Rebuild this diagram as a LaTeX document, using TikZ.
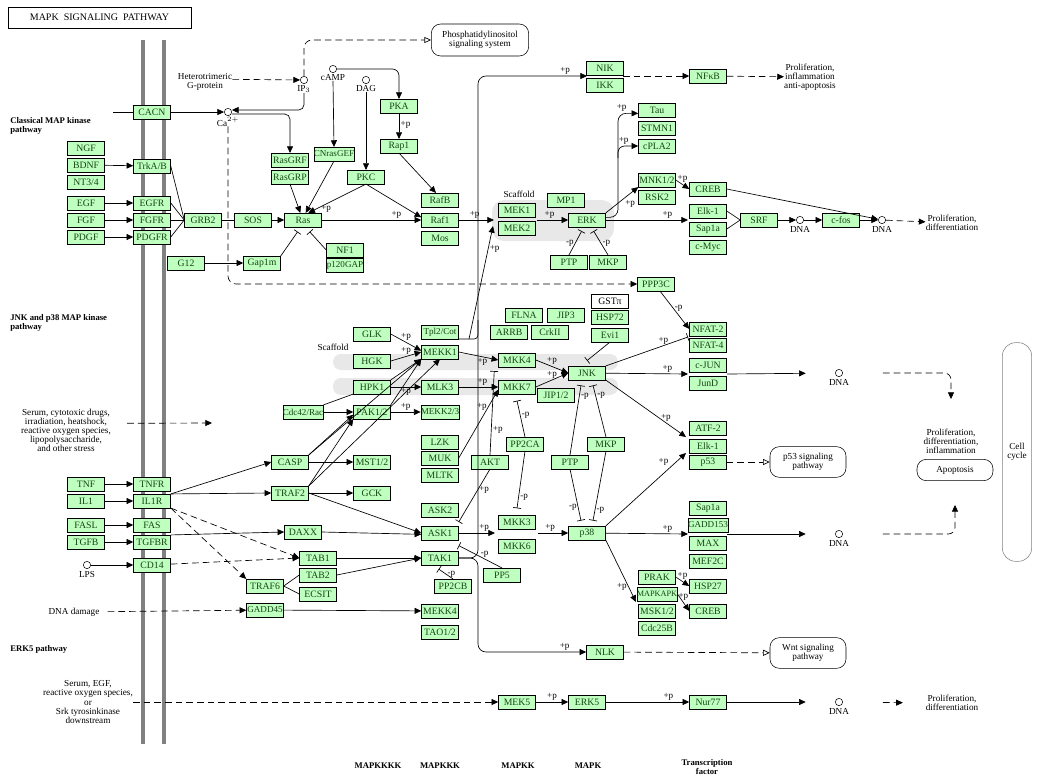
\documentclass[tikz,border=0pt]{standalone}
\usepackage{fontspec}
\setmainfont{Liberation Serif}
\usetikzlibrary{arrows.meta, positioning}
\definecolor{kgfill}{RGB}{191,255,191}
\definecolor{kgtext}{RGB}{20,70,20}
\definecolor{scaf}{RGB}{232,232,232}

\begin{document}
\begin{tikzpicture}[
  x=0.75pt, y=-0.75pt,
  gene/.style={draw, fill=kgfill, text=kgtext, minimum width=27.75pt, minimum height=10.2pt, inner sep=0pt, font=\fontsize{7.3}{8}\selectfont},
  tight/.style={font=\fontsize{6.8}{7}\selectfont},
  tighter/.style={font=\fontsize{6.2}{6.5}\selectfont},
  blank/.style={gene, fill=white, text=black},
  mol/.style={draw, circle, fill=white, minimum size=5.5pt, inner sep=0pt},
  txt/.style={align=center, inner sep=0pt, font=\fontsize{6.9}{6.8}\selectfont},
  head/.style={align=left, inner sep=0pt, font=\bfseries\fontsize{6.5}{7}\selectfont},
  mapbox/.style={draw, rounded corners=7pt, align=center, inner sep=0pt, font=\fontsize{6.9}{6.8}\selectfont},
  act/.style={-{Triangle[length=5pt,width=4.5pt]}, line width=0.5pt},
  ind/.style={act, dash pattern=on 5pt off 3pt},
  lnk/.style={-{Triangle[open,length=5pt,width=4.5pt]}, dash pattern=on 5pt off 3pt, line width=0.5pt},
  inh/.style={-{Bar[width=6pt]}, line width=0.5pt},
  con/.style={line width=0.5pt},
  pl/.style={font=\fontsize{6.8}{7}\selectfont, inner sep=1pt}
  ]
  \useasboundingbox (0,0) rectangle (1040,779);

  % scaffolds and membrane
  \fill[scaf, rounded corners=9pt] (492,200) rectangle (614,241);
  \fill[scaf, rounded corners=6pt] (333,354) rectangle (618,370);
  \fill[scaf, rounded corners=6pt] (333,378) rectangle (618,395);
  \draw[gray, line width=3pt] (143,40) -- (143,744);
  \draw[gray, line width=3pt] (164,40) -- (164,744);

  \node[draw, minimum width=137pt, minimum height=15.5pt, inner sep=0pt, font=\fontsize{7.5}{8}\selectfont] (title) at (99.5,17.5) {MAPK\ \ SIGNALING\ \ PATHWAY};
  \node[head, anchor=north west] (hclass) at (10,117) {Classical MAP kinase\\pathway};
  \node[head, anchor=north west] (hjnk) at (10,314) {JNK and p38 MAP kinase\\pathway};
  \node[head, anchor=north west] (herk) at (10,645) {ERK5 pathway};

  \node[gene] (ngf) at (86,148) {NGF};
  \node[gene] (bdnf) at (86,165) {BDNF};
  \node[gene] (ntf) at (86,182) {NT3/4};
  \node[gene] (egf) at (86,203) {EGF};
  \node[gene] (fgf) at (86,220) {FGF};
  \node[gene] (pdgf) at (86,237) {PDGF};
  \node[gene] (cacn) at (152,112) {CACN};
  \node[gene] (trk) at (152,166) {TrkA/B};
  \node[gene] (egfr) at (152,203) {EGFR};
  \node[gene] (fgfr) at (152,220) {FGFR};
  \node[gene] (pdgfr) at (152,237) {PDGFR};
  \node[gene] (tnf) at (86,484) {TNF};
  \node[gene] (ilone) at (86,501) {IL1};
  \node[gene] (fasl) at (86,525) {FASL};
  \node[gene] (tgfb) at (86,542) {TGFB};
  \node[gene] (tnfr) at (152,484) {TNFR};
  \node[gene] (ilr) at (152,501) {IL1R};
  \node[gene] (fas) at (152,525) {FAS};
  \node[gene] (tgfbr) at (152,542) {TGFBR};
  \node[gene] (cdft) at (152,565) {CD14};

  \node[gene] (grb) at (203,220) {GRB2};
  \node[gene] (sos) at (253,220) {SOS};
  \node[gene] (ras) at (303,220) {Ras};
  \node[gene] (gtw) at (186,263) {G12};
  \node[gene] (gapm) at (262,263) {Gap1m};
  \node[gene] (rasgrf) at (290,160) {RasGRF};
  \node[gene] (rasgrp) at (290,177) {RasGRP};
  \node[gene, tight] (cnras) at (334,154) {CNrasGEF};
  \node[gene] (pkc) at (366,177) {PKC};
  \node[gene] (pka) at (399,106) {PKA};
  \node[gene] (rapone) at (399,146) {Rap1};
  \node[gene] (rafb) at (440,200) {RafB};
  \node[gene] (rafone) at (440,220) {Raf1};
  \node[gene] (mos) at (440,238) {Mos};
  \node[gene] (nfone) at (345,250) {NF1};
  \node[gene, tight] (gap) at (345,265) {p120GAP};
  \node[gene] (mekone) at (517,210) {MEK1};
  \node[gene] (mektwo) at (517,228) {MEK2};
  \node[gene] (mpone) at (566,200) {MP1};
  \node[gene] (erk) at (587,220) {ERK};
  \node[gene] (ptpe) at (569,262) {PTP};
  \node[gene] (mkpe) at (608,262) {MKP};
  \node[gene] (nik) at (605,68) {NIK};
  \node[gene] (ikk) at (605,85) {IKK};
  \node[gene] (nfkb) at (708,76) {NFκB};
  \node[gene] (tau) at (657,110) {Tau};
  \node[gene] (stmn) at (657,128) {STMN1};
  \node[gene] (cpla) at (657,146) {cPLA2};
  \node[gene] (mnk) at (657,180) {MNK1/2};
  \node[gene] (rsk) at (657,197) {RSK2};
  \node[gene] (creba) at (708,189) {CREB};
  \node[gene] (elka) at (708,211) {Elk-1};
  \node[gene] (sapa) at (708,229) {Sap1a};
  \node[gene] (myc) at (708,247) {c-Myc};
  \node[gene] (srf) at (759,220) {SRF};
  \node[gene] (cfos) at (841,220) {c-fos};

  \node[gene] (ppp) at (656,284) {PPP3C};
  \node[gene] (nfattwo) at (708,329) {NFAT-2};
  \node[gene] (nfatfour) at (708,345) {NFAT-4};
  \node[gene] (cjun) at (708,365) {c-JUN};
  \node[gene] (jund) at (708,383) {JunD};
  \node[gene] (atf) at (708,428) {ATF-2};
  \node[gene] (elkb) at (708,446) {Elk-1};
  \node[gene] (psf) at (708,462) {p53};
  \node[gene] (sapb) at (708,508) {Sap1a};
  \node[gene, tight] (gadd) at (708,525) {GADD153};
  \node[gene] (max) at (708,543) {MAX};
  \node[gene] (mef) at (708,561) {MEF2C};
  \node[gene] (hsp) at (708,586) {HSP27};
  \node[gene] (crebc) at (708,611) {CREB};
  \node[gene] (nur) at (708,702) {Nur77};

  \node[gene] (glk) at (372,334) {GLK};
  \node[gene] (hgk) at (372,361) {HGK};
  \node[gene] (hpk) at (372,387) {HPK1};
  \node[gene] (pak) at (372,412) {PAK1/2};
  \node[gene, tight] (cdc) at (303,412) {Cdc42/Rac};
  \node[gene, tight] (tpl) at (440,332) {Tpl2/Cot};
  \node[gene] (mekka) at (440,352) {MEKK1};
  \node[gene] (mlk) at (440,387) {MLK3};
  \node[gene, tight] (mekkb) at (440,412) {MEKK2/3};
  \node[gene] (casp) at (290,462) {CASP};
  \node[gene] (traf) at (290,493) {TRAF2};
  \node[gene] (mst) at (372,462) {MST1/2};
  \node[gene] (gck) at (372,493) {GCK};
  \node[gene] (lzk) at (440,442) {LZK};
  \node[gene] (muk) at (440,458) {MUK};
  \node[gene] (mltk) at (440,475) {MLTK};
  \node[gene] (flna) at (524,315) {FLNA};
  \node[gene] (jipt) at (566,315) {JIP3};
  \node[gene] (arrb) at (509,332) {ARRB};
  \node[gene] (crk) at (550,332) {CrkII};
  \node[blank] (gst) at (610,301) {GSTπ};
  \node[gene] (hsps) at (610,317) {HSP72};
  \node[gene] (evi) at (610,335) {Evi1};
  \node[gene] (mkkf) at (517,360) {MKK4};
  \node[gene] (mkks) at (517,387) {MKK7};
  \node[gene] (jip) at (556,395) {JIP1/2};
  \node[gene] (jnk) at (587,373) {JNK};
  \node[gene] (ppca) at (525,444) {PP2CA};
  \node[gene] (ptpj) at (570,462) {PTP};
  \node[gene] (mkpj) at (606,444) {MKP};
  \node[gene] (akt) at (490,462) {AKT};

  \node[gene] (daxx) at (303,532) {DAXX};
  \node[gene] (tabone) at (318,558) {TAB1};
  \node[gene] (tabtwo) at (318,575) {TAB2};
  \node[gene] (ecsit) at (318,594) {ECSIT};
  \node[gene] (trafsix) at (265,586) {TRAF6};
  \node[gene, tight] (gaddff) at (265,610) {GADD45};
  \node[gene] (asktwo) at (440,510) {ASK2};
  \node[gene] (askone) at (440,533) {ASK1};
  \node[gene] (tak) at (440,558) {TAK1};
  \node[gene] (ppcb) at (453,586) {PP2CB};
  \node[gene] (mekkf) at (440,611) {MEKK4};
  \node[gene] (tao) at (440,632) {TAO1/2};
  \node[gene] (ppf) at (502,575) {PP5};
  \node[gene] (mkkt) at (517,522) {MKK3};
  \node[gene] (mkkx) at (517,546) {MKK6};
  \node[gene] (pts) at (587,533) {p38};
  \node[gene] (prak) at (657,577) {PRAK};
  \node[gene, tighter] (mapkap) at (657,594) {MAPKAPK};
  \node[gene] (msk) at (657,611) {MSK1/2};
  \node[gene] (cdcb) at (657,628) {Cdc25B};
  \node[gene] (nlk) at (605,652) {NLK};
  \node[gene] (mekf) at (517,702) {MEK5};
  \node[gene] (erkf) at (587,702) {ERK5};

  \node[mol] (ipthree) at (304,80) {};
  \node[txt, below=1pt of ipthree] (iplab) {IP$_3$};
  \node[mol] (camp) at (333,69) {};
  \node[txt, below=1pt of camp] (camplab) {cAMP};
  \node[mol] (dag) at (366,80) {};
  \node[txt, below=1pt of dag] (daglab) {DAG};
  \node[mol] (ca) at (228,112) {};
  \node[txt, below=1pt of ca] (calab) {Ca$^{2+}$};
  \node[mol] (lps) at (87,565) {};
  \node[txt, below=1.5pt of lps] (lpslab) {LPS};
  \node[mol] (dnaa) at (800,220) {};
  \node[txt, below=1.5pt of dnaa] (dnaalab) {DNA};
  \node[mol] (dnab) at (882,220) {};
  \node[txt, below=1.5pt of dnab] (dnablab) {DNA};
  \node[mol] (dnac) at (839,373) {};
  \node[txt, below=1.5pt of dnac] (dnaclab) {DNA};
  \node[mol] (dnad) at (839,534) {};
  \node[txt, below=1.5pt of dnad] (dnadlab) {DNA};
  \node[mol] (dnae) at (839,702) {};
  \node[txt, below=1.5pt of dnae] (dnaelab) {DNA};

  \node[mapbox, minimum width=73pt, minimum height=24pt] (phos) at (480,40) {Phosphatidylinositol\\signaling system};
  \node[mapbox, minimum width=57pt, minimum height=23pt] (psig) at (808,462) {p53 signaling\\pathway};
  \node[mapbox, minimum width=57pt, minimum height=23pt] (wnt) at (808,653) {Wnt signaling\\pathway};
  \node[mapbox, minimum width=57pt, minimum height=16pt] (apop) at (955,470) {Apoptosis};
  \node[mapbox, draw=gray, rounded corners=10pt, minimum width=22pt, minimum height=164pt] (cycle) at (1017,452) {Cell\\cycle};

  \node[txt] (hetero) at (205,82) {Heterotrimeric\\G-protein};
  \node[txt] (prolifa) at (810,77) {Proliferation,\\inflammation\\anti-apoptosis};
  \node[txt] (prolifb) at (952,223) {Proliferation,\\differentiation};
  \node[txt] (prolifc) at (951,441) {Proliferation,\\differentiation,\\inflammation};
  \node[txt] (prolifd) at (952,703) {Proliferation,\\differentiation};
  \node[txt] (stress) at (66,430) {Serum, cytotoxic drugs,\\irradiation, heatshock,\\reactive oxygen species,\\lipopolysaccharide,\\and other stress};
  \node[txt] (damage) at (74,612) {DNA damage};
  \node[txt] (erkstim) at (88,702) {Serum, EGF,\\reactive oxygen species,\\or\\Srk tyrosinkinase\\downstream};
  \node[txt] (scafa) at (519,194) {Scaffold};
  \node[txt] (scafb) at (333,347) {Scaffold};
  \node[head] (lkkkk) at (378,766) {MAPKKKK};
  \node[head] (lkkk) at (440,766) {MAPKKK};
  \node[head] (lkk) at (518,766) {MAPKK};
  \node[head] (lk) at (588,766) {MAPK};
  \node[head, align=center] (ltf) at (707,767) {Transcription\\factor};

  \coordinate (cacnin) at (113,112);
  \coordinate (mekin) at (494,220);
  \coordinate (tplin) at (493,226);
  \coordinate (tplout) at (469,339);
  \coordinate (mekout) at (537,220);
  \coordinate (spine) at (478,450);
  \coordinate (spinelow) at (478,600);
  \coordinate (nikin) at (587,76);
  \coordinate (ikkout) at (623,76);
  \coordinate (erkup) at (618,158);
  \coordinate (elkin) at (688,220);
  \coordinate (nfatin) at (688,337);
  \coordinate (cjunin) at (688,374);
  \coordinate (cjunout) at (727,374);
  \coordinate (atfin) at (686,437);
  \coordinate (psfin) at (686,453);
  \coordinate (gaddin) at (688,534);
  \coordinate (gaddout) at (727,534);
  \coordinate (prakin) at (636,602);
  \coordinate (mkkin) at (495,533);
  \coordinate (mkkout) at (538,533);
  \coordinate (stressend) at (212,423);

  % classical pathway
  \draw[act] (bdnf) -- (trk);
  \draw[act] (egf) -- (egfr);
  \draw[act] (fgf) -- (fgfr);
  \draw[act] (pdgf) -- (pdgfr);
  \foreach \rec in {trk,egfr,fgfr,pdgfr} \draw[con] (\rec.east) -- (grb.west);
  \draw[con] (grb) -- (sos);
  \draw[act] (sos) -- (ras);
  \draw[act] (ras) -- node[pl, above, pos=0.75] {+p} (rafone);
  \draw[act] (gtw) -- (gapm);
  \draw[inh] (gapm.north east) -- ([xshift=-4pt,yshift=-3.5pt]ras.south);
  \draw[inh] (nfone.west) -- ([xshift=5pt,yshift=-3.5pt]ras.south);
  \draw[con] (cacnin) -- (cacn);
  \draw[act] (cacn) -- (ca);
  \draw[ind] ([yshift=2pt]hetero.east) -- (ipthree);
  \draw[act, rounded corners=4pt] (iplab.south) |- ([yshift=1.5pt]ca.east);
  \draw[act, rounded corners=4pt] ([yshift=-1.5pt]ca.east) -| (rasgrf.north);
  \draw[ind, rounded corners=6pt] (calab.south) |- (ppp.west);
  \draw[lnk, rounded corners=6pt] (ipthree.north) |- (phos.west);
  \draw[act, rounded corners=5pt] (camp.east) -| (pka.north);
  \draw[act] (camplab.south) -- (cnras.north);
  \draw[act] (daglab.south) -- (pkc.north);
  \draw[act] (pka) -- node[pl, right, pos=0.45] {+p} (rapone);
  \draw[act] (rapone.south) -- ([xshift=-3pt]rafb.north);
  \draw[act] (rasgrp.south) -- ([xshift=-2pt]ras.north);
  \draw[act] (cnras.south) -- ([xshift=2pt]ras.north);
  \draw[act] (pkc.south) -- node[pl, pos=0.85, right=2pt] {+p} ([xshift=4pt]ras.north);
  \draw[act] (pkc.south) -- ([yshift=2pt]rafone.west);
  \draw[act] (rafone) -- node[pl, above, pos=0.45] {+p} (mekin);
  \draw[con, rounded corners=3pt] (tpl.south east) -| (478,320);
  \draw[act] (tplout) -- node[pl, right, pos=0.8] {+p} (tplin);
  \draw[act] (mekout) -- node[pl, above, pos=0.4] {+p} (erk);
  \draw[inh] (ptpe.north) -- node[pl, left, pos=0.5] {-p} ([xshift=-4pt,yshift=-3pt]erk.south);
  \draw[inh] (mkpe.north) -- node[pl, right, pos=0.5] {-p} ([xshift=5pt,yshift=-3pt]erk.south);
  \draw[act, rounded corners=6pt] ([yshift=2pt]erk.east) -| (erkup) |- node[pl, above left, pos=0.75] {+p} ([yshift=-2.5pt]tau.west);
  \draw[act, rounded corners=5pt] (erkup) |- node[pl, above left, pos=0.8] {+p} (cpla.west);
  \draw[act] (erk.north east) -- node[pl, below right=0pt, pos=0.55] {+p} (mnk.south west);
  \draw[act] (erk) -- node[pl, above, pos=0.75] {+p} (elkin);
  \draw[act] (mnk.east) -- node[pl, above, pos=0.5] {+p} (creba.west);
  \draw[con] (elka.east) -- (srf.west);
  \draw[con] (sapa.east) -- (srf.west);
  \draw[act] (srf) -- (dnaa);
  \draw[act] (dnaa) -- (cfos);
  \draw[act] (cfos) -- (dnab);
  \draw[act] (creba.east) -- (dnab);
  \draw[ind] (dnab) -- (prolifb);
  \draw[act, rounded corners=6pt] (tak.east) -| (spine) |- node[pl, above, pos=0.9] {+p} (nikin);
  \draw[act, rounded corners=6pt] (tak.east) -| (spinelow) |- node[pl, above, pos=0.9] {+p} (nlk.west);
  \draw[ind] (ikkout) -- (nfkb);
  \draw[ind] (nfkb) -- (prolifa);

  % JNK and p38 pathway
  \draw[ind, shorten <=12pt] ([yshift=5pt]stress.east) -- (stressend);
  \draw[act] (tnf) -- (tnfr);
  \draw[act] (ilone) -- (ilr);
  \draw[act] (fasl) -- (fas);
  \draw[act] (tgfb) -- (tgfbr);
  \draw[act] (lps) -- (cdft);
  \draw[act] (ilr.north east) -- (casp.west);
  \draw[act] (ilr.north east) -- (traf.west);
  \draw[ind] (ilr.south east) -- (tabone.west);
  \draw[ind] (ilr.south east) -- (trafsix.north west);
  \draw[act] (tgfbr.north east) -- (daxx.west);
  \draw[ind] (cdft) -- (tabone.west);
  \draw[con] (trafsix.east) -- (tabtwo.west);
  \draw[con] (trafsix.east) -- (ecsit.west);
  \draw[act] (tabone) -- (tak);
  \draw[act] (tabtwo.east) -- (tak.west);
  \draw[act] (daxx.east) -- ([yshift=-1pt]askone.west);
  \draw[act] (traf.east) -- (askone.west);
  \draw[ind, shorten <=6pt] (damage) -- (gaddff);
  \draw[act] (gaddff) -- (mekkf);
  \draw[act] (casp) -- (mst);
  \draw[act] (traf) -- (gck);
  \draw[act] (casp.north east) -- ([yshift=-2pt]pak.west);
  \draw[act] (casp.north east) -- (mekka.south west);
  \draw[act] (traf.north east) -- (mekka.south);
  \draw[act] (traf.north east) -- (pak.south west);
  \draw[con] (cdc.north east) -- (hpk.south west);
  \draw[act] (cdc) -- (pak);
  \draw[act] (glk.east) -- node[pl, above, pos=0.5] {+p} ([yshift=1pt]mekka.west);
  \draw[act] (hgk.east) -- node[pl, above, pos=0.5] {+p} (mekka.west);
  \draw[act] (hpk.north east) -- (mekka.south west);
  \draw[act] (pak.north east) -- (mekka.south west);
  \draw[act] (hpk) -- node[pl, below, pos=0.5] {+p} (mlk);
  \draw[act] (pak) -- node[pl, above, pos=0.5] {+p} (mekkb);
  \draw[act] (mekka.east) -- node[pl, below, pos=0.6] {+p} (mkkf.west);
  \draw[act] (mlk) -- node[pl, above, pos=0.6] {+p} (mkks);
  \draw[act] (muk.east) -- node[pl, left, pos=0.75] {+p} ([yshift=-2pt]mkks.west);
  \draw[inh] (akt.north) -- node[pl, right, pos=0.3] {+p} ([xshift=-3pt,yshift=-3pt]mkkf.south west);
  \draw[inh] (akt.south) -- node[pl, right, pos=0.4] {+p} ([yshift=3pt]askone.north east);
  \draw[act] (mkkf.east) -- node[pl, above, pos=0.5] {+p} (jnk.west);
  \draw[act] (mkks.east) -- node[pl, above, pos=0.5] {+p} (jnk.west);
  \draw[inh] (evi.south) -- ([yshift=4pt]jnk.north);
  \draw[inh] (ppca.north) -- node[pl, right, pos=0.6] {-p} ([yshift=-5pt]mkks.south);
  \draw[inh] (ppca.south) -- node[pl, right, pos=0.8] {-p} ([yshift=5pt]mkkt.north);
  \draw[inh] (ptpj.north) -- node[pl, right, pos=0.85] {-p} ([xshift=-4.5pt,yshift=-4pt]jnk.south);
  \draw[inh] (mkpj.north) -- node[pl, right, pos=0.8] {-p} ([xshift=4.5pt,yshift=-4pt]jnk.south);
  \draw[inh] (ptpj.south) -- node[pl, left, pos=0.75] {-p} ([xshift=-4.5pt,yshift=4pt]pts.north);
  \draw[inh] (mkpj.south) -- node[pl, right, pos=0.85] {-p} ([xshift=4.5pt,yshift=4pt]pts.north);
  \draw[act] ([xshift=3pt]ppp.south) -- node[pl, right, pos=0.45] {-p} (nfattwo.west);
  \draw[inh] (jnk.north east) -- node[pl, above, pos=0.7] {+p} (nfatin);
  \draw[act] (jnk) -- node[pl, above, pos=0.75] {+p} (cjunin);
  \draw[act] (jnk.south east) -- node[pl, above, pos=0.75] {+p} (atfin);
  \draw[act] (askone) -- node[pl, above, pos=0.7] {+p} (mkkin);
  \draw[act] (mkkout) -- node[pl, above, pos=0.4] {+p} (pts);
  \draw[inh] (ppf.north) -- node[pl, above, pos=0.4] {-p} ([yshift=4pt]tak.north east);
  \draw[inh] (ppcb.north) -- node[pl, right, pos=0.5] {-p} ([xshift=-1pt,yshift=-3pt]tak.south);
  \draw[act] (pts) -- node[pl, above, pos=0.75] {+p} (gaddin);
  \draw[act] (pts.north east) -- node[pl, above left=0pt, pos=0.8] {+p} (psfin);
  \draw[act] (pts.south east) -- node[pl, left, pos=0.75] {+p} (prakin);
  \draw[act] (prak.east) -- node[pl, above, pos=0.5] {+p} (hsp.west);
  \draw[act] (mapkap.east) -- node[pl, above, pos=0.5] {+p} (crebc.west);
  \draw[act, shorten >=22pt] (cjunout) -- (dnac);
  \draw[act, shorten >=22pt] (gaddout) -- (dnad);
  \draw[ind, rounded corners=5pt, shorten <=30pt, shorten >=22pt] (dnac.east) -| (prolifc.north);
  \draw[ind, rounded corners=5pt, shorten <=30pt, shorten >=18pt] (dnad.east) -| (apop.south);
  \draw[lnk] (psf) -- (psig);
  \draw[lnk] (nlk) -- (wnt);

  % ERK5 pathway
  \draw[ind] (erkstim.east) -- (mekf.west);
  \draw[act] (mekf) -- node[pl, above, pos=0.5] {+p} (erkf);
  \draw[act] (erkf) -- node[pl, above, pos=0.75] {+p} (nur);
  \draw[act, shorten >=22pt] (nur) -- (dnae);
  \draw[ind, shorten <=30pt, shorten >=17pt] (dnae.east) -- (prolifd.west);
\end{tikzpicture}
\end{document}
